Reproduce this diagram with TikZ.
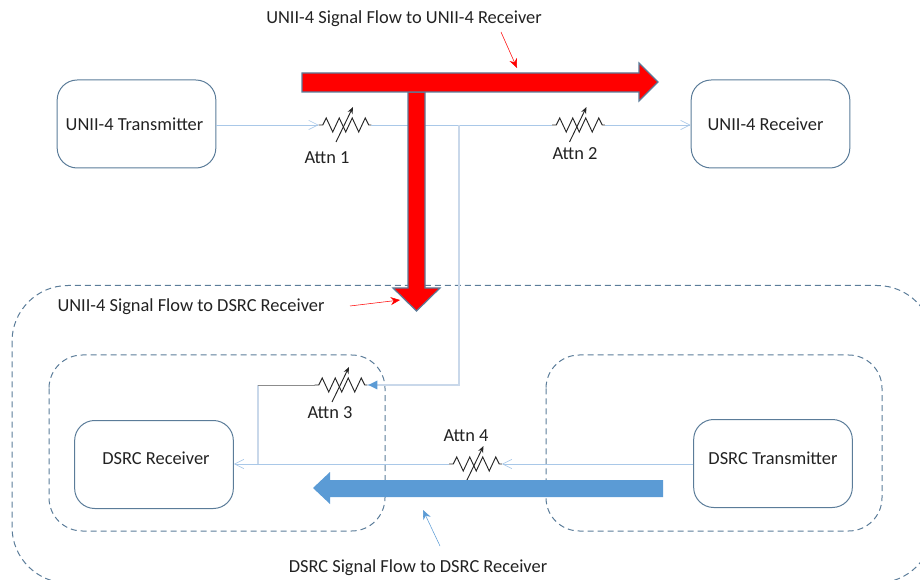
\documentclass[tikz,border=0pt]{standalone}
\usepackage{fontspec}
\setmainfont{Carlito}
\usetikzlibrary{arrows.meta}
\definecolor{boxline}{HTML}{5B7C99}
\definecolor{sigline}{HTML}{A9C8E8}
\definecolor{pale}{HTML}{C9D8EA}
\definecolor{flowblue}{HTML}{5B9BD5}
\definecolor{txt}{HTML}{222222}
\tikzset{
  unitbox/.style={draw=boxline,line width=0.75pt,rounded corners=15pt,text=txt,font=\fontsize{13.8}{16}\selectfont,inner sep=0pt,minimum width=119pt,minimum height=66pt},
  zone/.style={draw=boxline,line width=0.75pt,dash pattern=on 4.5pt off 3pt},
  outerzone/.style={zone,rounded corners=42pt},
  innerzone/.style={zone,rounded corners=25pt},
  lab/.style={text=txt,font=\fontsize{13.8}{16}\selectfont,inner sep=0pt},
  sig/.style={draw=sigline,line width=0.7pt},
  sigarrow/.style={sig,-{Straight Barb[length=7pt,width=7pt,line width=0.5pt]}},
  branch/.style={draw=pale,line width=1pt},
  bigred/.style={fill=red,draw=boxline,line width=0.9pt,line join=miter},
  bigblue/.style={fill=flowblue,draw=none},
  note/.style={draw=red,line width=0.4pt,-{Stealth[length=7pt,width=6pt]}},
  noteb/.style={draw=flowblue,line width=0.4pt,-{Stealth[length=7pt,width=6pt]}},
  attnport/.style={inner sep=0pt,minimum width=39pt,minimum height=0pt},
  zig/.style={draw=black!85,line width=0.7pt,line join=miter},
  knob/.style={draw=black!85,line width=0.7pt,-{Stealth[length=5pt,width=4pt]}}
}
% one variable attenuator, drawn round a named node
\newcommand{\attn}[3]{%
  \node[attnport] (#1) at (#2,#3) {};
  \draw[zig] (#1.west) -- ++(4,0) -- ++(3.5,-7) -- ++(6.5,14) -- ++(6.5,-14) -- ++(6.5,14) -- ++(6.5,-14) -- ++(6.5,14) -- ++(6.5,-14) -- ++(3.5,7) -- (#1.east);
  \draw[knob] ([shift={(-9,17)}]#1.center) -- ([shift={(8,-18)}]#1.center);
}
\begin{document}
\begin{tikzpicture}[x=0.75pt,y=-0.75pt]
\useasboundingbox (0,0) rectangle (920,580);
\clip (0,0) rectangle (920,580);
% zones
\draw[outerzone] (12,285.5) rectangle (933,583);
\draw[innerzone] (49,355) rectangle (385,531);
\draw[innerzone] (546,355) rectangle (882,531);
% units
\node[unitbox] (utx) at (136.5,124) {UNII-4 Transmitter\hspace{3pt}\mbox{}};
\node[unitbox] (urx) at (770.5,124) {UNII-4 Receiver\hspace{7.5pt}\mbox{}};
\node[unitbox] (drx) at (154,464.5) {\hspace{3pt}\raisebox{9pt}{DSRC Receiver}};
\node[unitbox] (dtx) at (773,463.5) {\raisebox{8pt}{DSRC Transmitter}};
% attenuators
\attn{a1}{345}{125}
\attn{a2}{578.5}{125}
\attn{a3}{341}{385}
\attn{a4}{475.5}{464}
\node[lab] (l1) at (327,158) {Attn 1};
\node[lab] (l2) at (575,154) {Attn 2};
\node[lab] (l3) at (330,413) {Attn 3};
\node[lab] (l4) at (466,436) {Attn 4};
% signal lines
\coordinate (tap) at (459,125);
\coordinate (bend) at (459,385);
\coordinate (tapd) at (258,464);
\coordinate (bendd) at (258,385);
\draw[sigarrow] (utx.east|-a1) -- (a1.west);
\draw[sig] (a1.east) -- (a2.west);
\draw[sigarrow] (a2.east) -- (urx.west|-a2);
\draw[branch] (tap) -- (bend) -- (a3.east);
\fill[flowblue] (a3.east) ++(1,0) -- ++(9,-4.5) -- ++(0,9) -- cycle;
\draw[branch] (tapd) -- (bendd);
\draw[draw=black!45,line width=0.7pt] (bendd) -- (a3.west);
\draw[sigarrow] (a4.west) -- (drx.east|-a4);
\draw[sigarrow] (dtx.west|-a4) -- (a4.east);
% big flows
\draw[bigred] (408,92) -- (425,92) -- (425,288) -- (440,288) -- (416.5,311) -- (393,288) -- (408,288) -- cycle;
\draw[bigred] (302,73) -- (639,73) -- (639,63) -- (658,82) -- (639,101) -- (639,92) -- (302,92) -- cycle;
\path[bigblue] (663,480) -- (330,480) -- (330,472) -- (313,488) -- (330,504) -- (330,497) -- (663,497) -- cycle;
% captions
\node[lab] (c1) at (404,19) {UNII-4 Signal Flow to UNII-4 Receiver};
\node[lab] (c2) at (191,307) {UNII-4 Signal Flow to DSRC Receiver};
\node[lab] (c3) at (418,568) {DSRC Signal Flow to DSRC Receiver};
\coordinate (n1s) at (501,32);
\coordinate (n1e) at (517,68);
\coordinate (n2s) at (350,306);
\coordinate (n2e) at (400,300);
\coordinate (n3s) at (440,546);
\coordinate (n3e) at (423,510);
\draw[note] (n1s) -- (n1e);
\draw[note] (n2s) -- (n2e);
\draw[noteb] (n3s) -- (n3e);
\end{tikzpicture}
\end{document}
